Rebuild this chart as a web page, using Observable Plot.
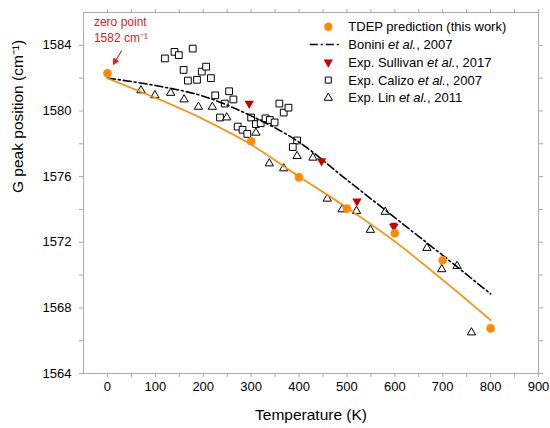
<!DOCTYPE html>
<html><head><meta charset="utf-8">
<script src="https://cdn.jsdelivr.net/npm/d3@7"></script>
<script src="https://cdn.jsdelivr.net/npm/@observablehq/plot@0.6"></script>
<style>
body{margin:0;background:#fff;}
#wrap{position:relative;width:550px;height:428px;font-family:"Liberation Sans",Arial,Helvetica,sans-serif;}
#wrap svg{display:block;}
</style></head><body><div id="wrap"></div>
<script>
// ---- data ----
const tdepT = [0, 300, 400, 500, 600, 700, 800];
const tdepG = [1582.3, 1578.15, 1575.95, 1574.05, 1572.55, 1570.9, 1566.75];

const tdepFitT = [0, 100, 200, 300, 400, 500, 600, 700, 800];
const tdepFitG = [1582.0, 1580.8, 1579.5, 1577.95, 1576.0, 1574.1, 1572.05, 1569.7, 1567.25];

const boniniT = [0, 100, 200, 300, 400, 500, 600, 700, 800];
const boniniG = [1582.0, 1581.55, 1580.9, 1579.7, 1578.1, 1575.8, 1573.5, 1571.2, 1568.85];

const sullivanT = [296, 447, 521, 598];
const sullivanG = [1580.45, 1576.95, 1574.5, 1572.95];
const sullivanErr = [0, 0, 0, 0.2];

const calizoT = [120, 140, 149, 178, 159, 168, 187, 197, 206, 216, 225, 254, 263, 245, 235, 272, 282, 292, 300, 310, 320, 330, 339, 349, 359, 368, 378, 396, 387];
const calizoG = [1583.2, 1583.6, 1583.4, 1583.8, 1582.5, 1581.85, 1581.9, 1582.4, 1582.7, 1582.0, 1580.95, 1581.2, 1580.7, 1580.45, 1579.6, 1579.05, 1578.85, 1578.6, 1579.6, 1579.2, 1579.25, 1579.55, 1579.45, 1579.3, 1580.45, 1579.9, 1580.2, 1578.2, 1577.8];

const linT = [70, 99, 132, 160, 190, 219, 249, 310, 338, 368, 396, 429, 459, 490, 520, 549, 580, 667, 698, 730, 760];
const linG = [1581.25, 1580.95, 1581.1, 1580.7, 1580.25, 1580.25, 1579.6, 1578.67, 1576.8, 1576.5, 1577.25, 1577.15, 1574.65, 1574.0, 1573.9, 1572.75, 1573.85, 1571.65, 1570.35, 1570.55, 1566.5];

const xMajor = [0, 100, 200, 300, 400, 500, 600, 700, 800, 900];
const xMinor = [50, 150, 250, 350, 450, 550, 650, 750, 850];
const yMajor = [1564, 1568, 1572, 1576, 1580, 1584];
const yMinor = [1566, 1570, 1574, 1578, 1582];

const xTitle = "Temperature (K)";
const yTitle = "G peak position (cm\u207B\u00B9)";
const zeroLabel1 = "zero point";
const zeroLabel2 = "1582 cm\u207B\u00B9";

const legendLabels = [
  [["TDEP prediction (this work)", false]],
  [["Bonini ", false], ["et al.", true], [", 2007", false]],
  [["Exp. Sullivan ", false], ["et al.", true], [", 2017", false]],
  [["Exp. Calizo ", false], ["et al.", true], [", 2007", false]],
  [["Exp. Lin ", false], ["et al.", true], [", 2011", false]]
];

// ---- styling ----
const ORANGE = "#ff8a00";
const RED = "#c80000";
const REDTEXT = "#dc2026";
const GRAY = "#aaaaaa";
const DASH = "8,3,2,3";

const invTriangle = {
  draw(ctx, size) {
    const s3 = Math.sqrt(3);
    const y = -Math.sqrt(size / (s3 * 3));
    ctx.moveTo(0, -y * 2);
    ctx.lineTo(-s3 * y, y);
    ctx.lineTo(s3 * y, y);
    ctx.closePath();
  }
};
const capSymbol = {
  draw(ctx, size) {
    const w = 3.5;
    ctx.moveTo(-w, 0); ctx.lineTo(w, 0);
  }
};
const arrowShape = {
  draw(ctx, l) {
    const h = 5, w = 2.6;
    ctx.moveTo(0, 0); ctx.lineTo(0, -l + h);
    ctx.moveTo(0, -l); ctx.lineTo(-w, -l + h); ctx.lineTo(w, -l + h); ctx.closePath();
  }
};

const zip = (T, G) => T.map((t, i) => ({T: t, G: G[i]}));
const tdep = zip(tdepT, tdepG);
const tdepFit = zip(tdepFitT, tdepFitG);
const bonini = zip(boniniT, boniniG);
const sullivan = sullivanT.map((t, i) => ({T: t, G: sullivanG[i], e: sullivanErr[i]}));
const sullivanBars = sullivan.filter(d => d.e > 0);
const calizo = zip(calizoT, calizoG);
const lin = zip(linT, linG);

const xTicks = xMajor.concat(xMinor);
const yTicks = yMajor.concat(yMinor);
const fmtX = d => xMajor.includes(d) ? String(d) : "";
const fmtY = d => yMajor.includes(d) ? String(d) : "";

const chart = Plot.plot({
  width: 550, height: 428,
  marginLeft: 83, marginRight: 12, marginTop: 12, marginBottom: 55,
  style: {fontFamily: '"Liberation Sans", Arial, Helvetica, sans-serif', fontSize: "13px", background: "white", color: "black"},
  x: {domain: [-50, 900]},
  y: {domain: [1564, 1586]},
  marks: [
    Plot.frame({stroke: GRAY}),
    Plot.axisX({ticks: xTicks, anchor: "bottom", tickSize: 4, tickPadding: 4, stroke: GRAY, fill: "black", tickFormat: fmtX, label: null, fontSize: 13}),
    Plot.axisX({ticks: xTicks, anchor: "top", tickSize: 4, stroke: GRAY, tickFormat: () => "", label: null}),
    Plot.axisY({ticks: yTicks, anchor: "left", tickSize: 4, tickPadding: 8, stroke: GRAY, fill: "black", tickFormat: fmtY, label: null, fontSize: 13}),
    Plot.axisY({ticks: yTicks, anchor: "right", tickSize: 4, stroke: GRAY, tickFormat: () => "", label: null}),
    Plot.dot(calizo, {x: "T", y: "G", symbol: "square", r: 3.8, stroke: "black", fill: "white", strokeWidth: 1}),
    Plot.dot(lin, {x: "T", y: "G", symbol: "triangle", r: 3.1, stroke: "black", fill: "white", strokeWidth: 1}),
    Plot.line(bonini, {x: "T", y: "G", curve: "monotone-x", stroke: "black", strokeWidth: 1.6, strokeDasharray: DASH}),
    Plot.line(tdepFit, {x: "T", y: "G", curve: "monotone-x", stroke: ORANGE, strokeWidth: 1.6}),
    Plot.ruleX(sullivanBars, {x: "T", y1: d => d.G - d.e, y2: d => d.G + d.e, stroke: RED, strokeWidth: 1}),
    Plot.dot(sullivanBars, {x: "T", y: d => d.G + d.e, symbol: capSymbol, stroke: RED, strokeWidth: 1.2}),
    Plot.dot(sullivan, {x: "T", y: "G", symbol: invTriangle, r: 3.5, fill: RED, stroke: "none"}),
    Plot.dot(tdep, {x: "T", y: "G", r: 4.3, fill: ORANGE, stroke: "none"}),
    Plot.text([tdep[0]], {x: "T", y: "G", text: () => zeroLabel1, dx: -13.5, dy: -51.5, textAnchor: "start", fill: REDTEXT, fontSize: 12}),
    Plot.text([tdep[0]], {x: "T", y: "G", text: () => zeroLabel2, dx: -13.5, dy: -35, textAnchor: "start", fill: REDTEXT, fontSize: 12}),
    Plot.vector([tdep[0]], {x: "T", y: "G", length: 15.5, rotate: 211, anchor: "end", shape: arrowShape, stroke: REDTEXT, fill: REDTEXT, strokeWidth: 1.1, dx: 6, dy: -9}),
    Plot.text([xTitle], {frameAnchor: "bottom", text: d => d, dy: 41.6, lineAnchor: "middle", fontSize: 15.5, fill: "black"}),
    Plot.text([yTitle], {frameAnchor: "left", text: d => d, dx: -65, rotate: -90, lineAnchor: "middle", fontSize: 15.5, fill: "black"})
  ]
});

const wrap = document.getElementById("wrap");
wrap.appendChild(chart);

// ---- legend overlay ----
const legendSymbols = [
  {kind: "dot", type: d3.symbolCircle, r: 4.2, fill: ORANGE, stroke: "none"},
  {kind: "line"},
  {kind: "dot", type: invTriangle, r: 3.5, fill: RED, stroke: "none"},
  {kind: "dot", type: d3.symbolSquare, r: 3.4, fill: "white", stroke: "black"},
  {kind: "dot", type: d3.symbolTriangle, r: 3.1, fill: "white", stroke: "black"}
];
const leg = d3.select(wrap).append("svg")
  .attr("width", 550).attr("height", 428)
  .style("position", "absolute").style("left", "0px").style("top", "0px")
  .style("font-family", '"Liberation Sans", Arial, Helvetica, sans-serif');
legendLabels.forEach((parts, i) => {
  const y = 26.7 + i * 17.8;
  const s = legendSymbols[i];
  const g = leg.append("g").attr("transform", `translate(328.3,${y})`);
  if (s.kind === "line") {
    g.append("line").attr("x1", -18.5).attr("x2", 13.5).attr("y1", 0).attr("y2", 0)
      .attr("stroke", "black").attr("stroke-width", 1.6).attr("stroke-dasharray", DASH);
  } else {
    g.append("path").attr("d", d3.symbol(s.type, Math.PI * s.r * s.r)())
      .attr("fill", s.fill).attr("stroke", s.stroke).attr("stroke-width", 1);
  }
  const t = leg.append("text").attr("x", 348.3).attr("y", y).attr("dy", "0.35em")
    .style("font-size", "13px").attr("fill", "black");
  parts.forEach(([txt, it]) => t.append("tspan").text(txt).style("font-style", it ? "italic" : "normal"));
});
</script>
</body></html>
